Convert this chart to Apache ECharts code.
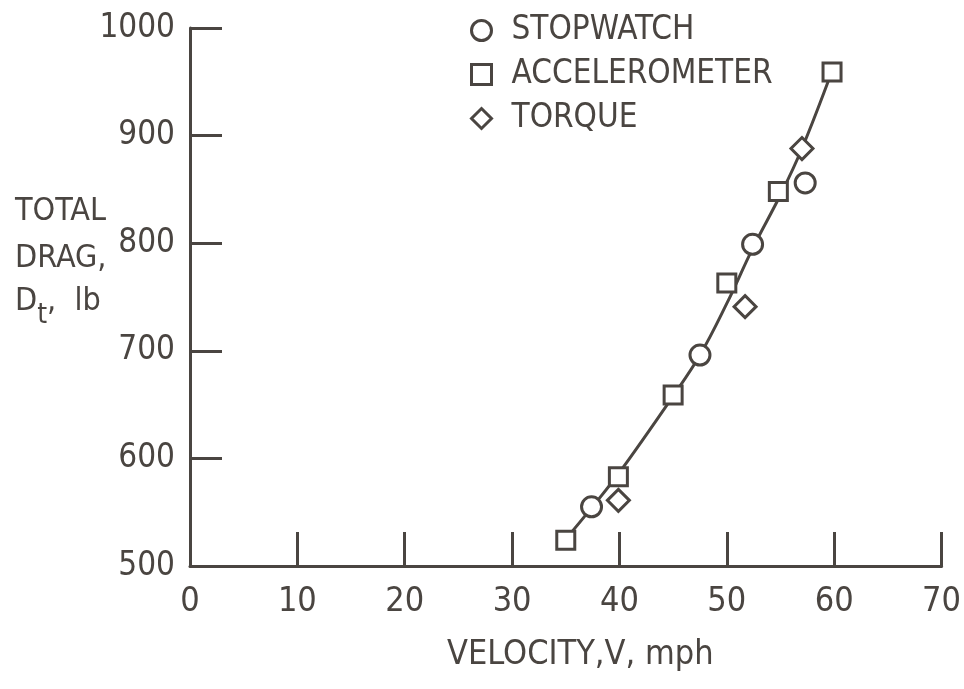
<!DOCTYPE html>
<html><head><meta charset="utf-8">
<script src="https://cdn.jsdelivr.net/npm/echarts@6/dist/echarts.min.js"></script>
<style>html,body{margin:0;padding:0;background:#fff}#c{width:964px;height:689px}</style>
</head><body><div id="c"></div>
<script>
const xTicks = [0, 10, 20, 30, 40, 50, 60, 70];
const yTicks = [500, 600, 700, 800, 900, 1000];
const stopwatch = [[37.4, 555], [47.5, 696], [52.4, 799], [57.3, 856]];
const accelerometer = [[35.0, 524], [39.9, 583], [45.0, 659], [50.0, 763], [54.8, 848], [59.8, 959]];
const torque = [[39.9, 561], [51.7, 741], [57.0, 888]];
const fitCurve = [[35.0, 525], [37.4, 554], [40.0, 587], [45.0, 658], [47.5, 696], [50.0, 744], [52.4, 795], [55.0, 845], [57.0, 888], [59.8, 960]];

const INK = '#4a4541';
const FONT = '"DejaVu Sans Condensed", "Liberation Sans Narrow", sans-serif';
const chart = echarts.init(document.getElementById('c'));
const mk = (name, data, symbol, size) => ({
  name, type: 'scatter', data, symbol, symbolSize: size, z: 5,
  itemStyle: { color: '#fff', borderColor: INK, borderWidth: 3, opacity: 1 }
});
chart.setOption({
  animation: false,
  backgroundColor: '#fff',
  grid: { left: 190, right: 21, top: 28, bottom: 123 },
  xAxis: {
    type: 'value', min: 0, max: 70, interval: 10,
    axisLine: { lineStyle: { color: INK, width: 3 } },
    axisTick: { inside: true, length: 34, lineStyle: { color: INK, width: 3 } },
    axisLabel: { color: INK, fontFamily: FONT, fontSize: 34, margin: 19,
      formatter: v => xTicks.includes(v) ? String(v) : '' },
    splitLine: { show: false }
  },
  yAxis: {
    type: 'value', min: 500, max: 1000, interval: 100,
    axisLine: { show: true, lineStyle: { color: INK, width: 3 } },
    axisTick: { show: true, inside: true, length: 32, lineStyle: { color: INK, width: 3 } },
    axisLabel: { color: INK, fontFamily: FONT, fontSize: 33, margin: 15,
      formatter: v => yTicks.includes(v) ? String(v) : '' },
    splitLine: { show: false }
  },
  legend: {
    orient: 'vertical', left: 465, top: 9, itemGap: 11,
    itemWidth: 20, itemHeight: 20,
    itemStyle: { color: '#fff', borderColor: INK, borderWidth: 3 },
    textStyle: { color: INK, fontFamily: FONT, fontSize: 33, padding: [0, 0, 0, 15] },
    data: ['STOPWATCH', 'ACCELEROMETER', 'TORQUE']
  },
  series: [
    { name: 'fit', type: 'line', data: fitCurve, smooth: 0.4, symbol: 'none', z: 2,
      lineStyle: { color: INK, width: 3 } },
    mk('STOPWATCH', stopwatch, 'circle', 20),
    mk('ACCELEROMETER', accelerometer, 'rect', 18),
    mk('TORQUE', torque, 'diamond', 22)
  ],
  graphic: [
    { type: 'text', left: 15, top: 196, style: { text: 'TOTAL', fill: INK, font: '32px ' + FONT } },
    { type: 'text', left: 15, top: 243, style: { text: 'DRAG,', fill: INK, font: '32px ' + FONT } },
    { type: 'text', left: 15, top: 286, style: {
      text: '{a|D}{s|t}{a|,  lb}', fill: INK,
      rich: { a: { fontFamily: FONT, fontSize: 32, fill: INK, verticalAlign: 'top' },
              s: { fontFamily: FONT, fontSize: 28, fill: INK, padding: [16, 0, 0, 0], verticalAlign: 'top' } } } },
    { type: 'text', left: 447, top: 638, style: { text: 'VELOCITY,V, mph', fill: INK, font: '34px ' + FONT } }
  ]
});
</script></body></html>
